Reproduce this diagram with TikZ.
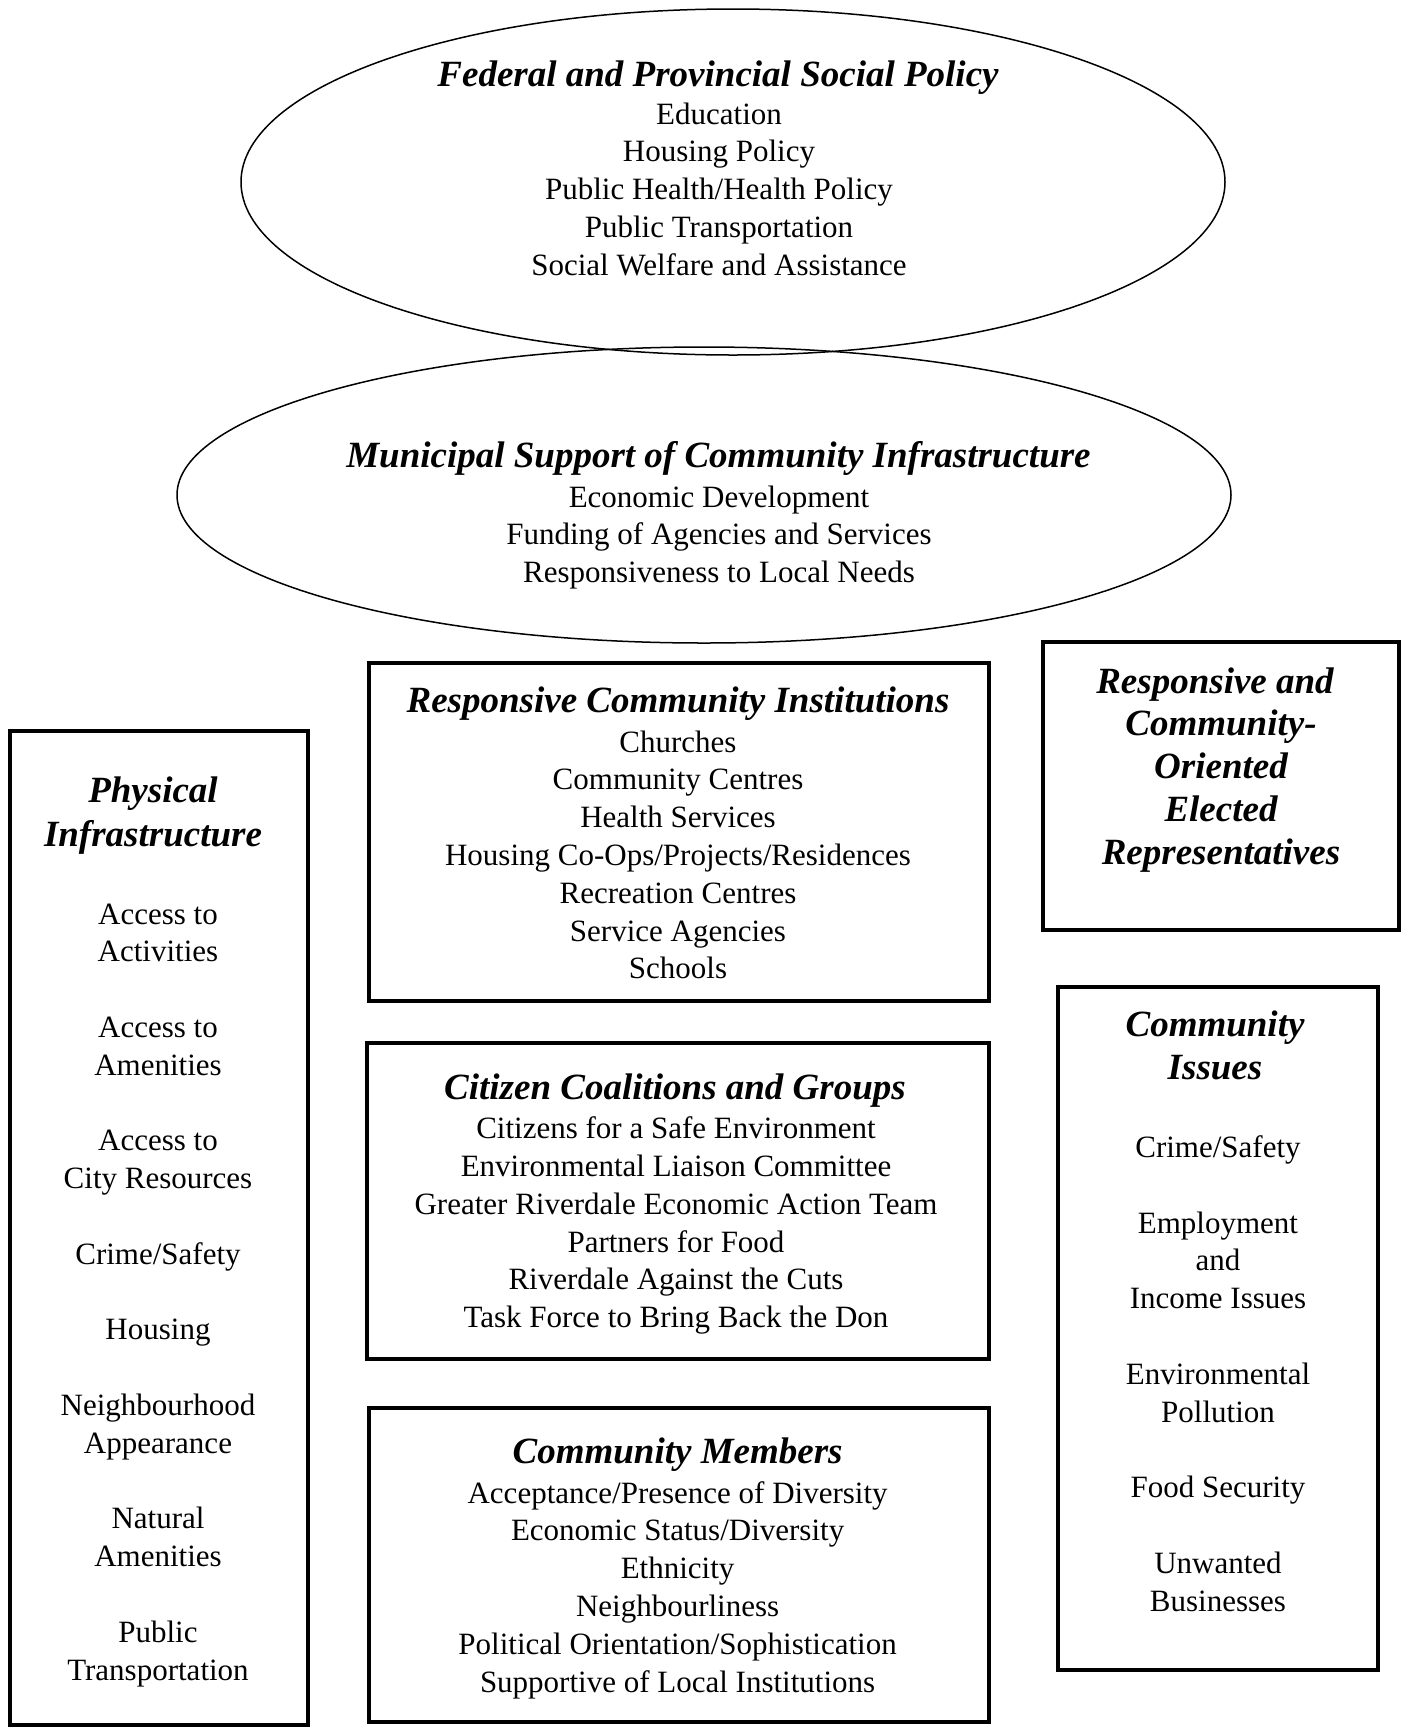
\documentclass[tikz,border=0pt]{standalone}
\usepackage{fontspec}
\setmainfont{Liberation Serif}
\usetikzlibrary{shapes.geometric}
\tikzset{
  bodytext/.style={font=\fontsize{31}{37.8}\selectfont, inner sep=0pt, anchor=base},
  titletext/.style={font=\fontsize{37}{43}\selectfont\bfseries\itshape, inner sep=0pt, anchor=base},
  oval/.style={draw, line width=1.5pt, ellipse, inner sep=0pt},
  framebox/.style={draw, line width=3.5pt, rectangle, inner sep=0pt},
}
\begin{document}
\begin{tikzpicture}[x=1pt,y=-1pt]
\useasboundingbox (0,0) rectangle (1405,1733);

% ellipses
\node[oval, minimum width=984pt, minimum height=346pt] (fed) at (733,182) {};
\node[oval, minimum width=1054pt, minimum height=296pt] (mun) at (704,495) {};

% boxes
\node[framebox, minimum width=620pt, minimum height=338pt] (rci) at (679,832) {};
\node[framebox, minimum width=622pt, minimum height=316pt] (ccg) at (678,1201) {};
\node[framebox, minimum width=620pt, minimum height=314pt] (cm) at (679,1565) {};
\node[framebox, minimum width=298pt, minimum height=994pt] (phys) at (159,1228) {};
\node[framebox, minimum width=356pt, minimum height=288pt] (reps) at (1221,786) {};
\node[framebox, minimum width=320pt, minimum height=683pt] (iss) at (1218,1328.5) {};

% Federal
\node[titletext] (fedT) at (718,86) {Federal and Provincial Social Policy};
\foreach \mytext [count=\i from 0] in {Education,Housing Policy,{Public Health/Health Policy},Public Transportation,Social Welfare and Assistance}
  \node[bodytext] (fedL\i) at (719,124+\i*37.8) {\mytext};

% Municipal
\node[titletext] (munT) at (718.5,467) {Municipal Support of Community Infrastructure};
\foreach \mytext [count=\i from 0] in {Economic Development,Funding of Agencies and Services,Responsiveness to Local Needs}
  \node[bodytext] (munL\i) at (719,507+\i*37.8) {\mytext};

% Responsive Community Institutions
\node[titletext] (rciT) at (678,712) {Responsive Community Institutions};
\foreach \mytext [count=\i from 0] in {Churches,Community Centres,Health Services,{Housing Co-Ops/Projects/Residences},Recreation Centres,Service Agencies,Schools}
  \node[bodytext] (rciL\i) at (678,752+\i*37.8) {\mytext};

% Citizen Coalitions
\node[titletext] (ccgT) at (675,1099) {Citizen Coalitions and Groups};
\foreach \mytext [count=\i from 0] in {Citizens for a Safe Environment,Environmental Liaison Committee,Greater Riverdale Economic Action Team,Partners for Food,Riverdale Against the Cuts,Task Force to Bring Back the Don}
  \node[bodytext] (ccgL\i) at (676,1138.6+\i*37.8) {\mytext};

% Community Members
\node[titletext] (cmT) at (677.6,1463.6) {Community Members};
\foreach \mytext [count=\i from 0] in {{Acceptance/Presence of Diversity},{Economic Status/Diversity},Ethnicity,Neighbourliness,{Political Orientation/Sophistication},Supportive of Local Institutions}
  \node[bodytext] (cmL\i) at (677.6,1503+\i*37.8) {\mytext};

% Physical Infrastructure
\node[titletext] (physT1) at (153,802.6) {Physical};
\node[titletext] (physT2) at (153,846.8) {Infrastructure};
\foreach \k/\mytext [count=\i from 0] in {0/Access to,1/Activities,3/Access to,4/Amenities,6/Access to,7/City Resources,9/{Crime/Safety},11/Housing,13/Neighbourhood,14/Appearance,16/Natural,17/Amenities,19/Public,20/Transportation}
  \node[bodytext] (physL\i) at (158,924+\k*37.8) {\mytext};

% Elected representatives
\foreach \dx/\mytext [count=\i from 0] in {-6/Responsive and,0/Community-,0/Oriented,0/Elected,0/Representatives}
  \node[titletext] (repsL\i) at (1221+\dx,693+\i*42.9) {\mytext};

% Community Issues
\node[titletext] (issT1) at (1215,1036) {Community};
\node[titletext] (issT2) at (1215,1079) {Issues};
\foreach \k/\mytext [count=\i from 0] in {0/{Crime/Safety},2/Employment,3/and,4/Income Issues,6/Environmental,7/Pollution,9/Food Security,11/Unwanted,12/Businesses}
  \node[bodytext] (issL\i) at (1218,1157.4+\k*37.8) {\mytext};
\end{tikzpicture}
\end{document}
